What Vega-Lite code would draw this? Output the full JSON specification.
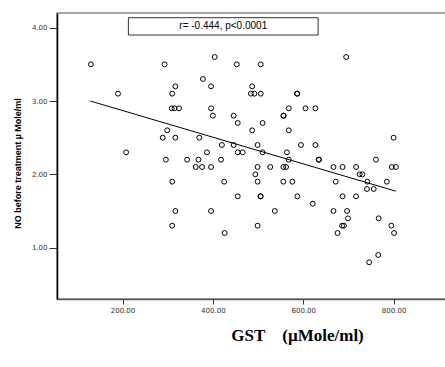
{
  "$schema": "https://vega.github.io/schema/vega-lite/v6.json",
  "width": 389,
  "height": 286,
  "autosize": "none",
  "padding": {"left": 57, "top": 13, "right": 0, "bottom": 68},
  "background": "white",
  "config": {"view": {"stroke": "#8a8a8a", "strokeWidth": 1.5}, "axis": {"grid": false}},
  "datasets": {
    "pts": [
      {"gst":130,"no":3.5},{"gst":293,"no":3.5},{"gst":404,"no":3.6},{"gst":453,"no":3.5},{"gst":378,"no":3.3},
      {"gst":317,"no":3.2},{"gst":396,"no":3.2},{"gst":190,"no":3.1},{"gst":310,"no":3.1},{"gst":309,"no":2.9},
      {"gst":315,"no":2.9},{"gst":325,"no":2.9},{"gst":396,"no":2.9},{"gst":400,"no":2.8},{"gst":446,"no":2.8},
      {"gst":455,"no":2.7},{"gst":299,"no":2.6},{"gst":289,"no":2.5},{"gst":317,"no":2.5},{"gst":370,"no":2.5},
      {"gst":420,"no":2.4},{"gst":446,"no":2.4},{"gst":208,"no":2.3},{"gst":387,"no":2.3},{"gst":455,"no":2.3},
      {"gst":466,"no":2.3},{"gst":296,"no":2.2},{"gst":343,"no":2.2},{"gst":368,"no":2.2},{"gst":418,"no":2.2},
      {"gst":362,"no":2.1},{"gst":376,"no":2.1},{"gst":396,"no":2.1},{"gst":310,"no":1.9},{"gst":425,"no":1.9},
      {"gst":455,"no":1.7},{"gst":317,"no":1.5},{"gst":396,"no":1.5},{"gst":310,"no":1.3},{"gst":426,"no":1.2},
      {"gst":506,"no":3.5},{"gst":695,"no":3.6},{"gst":487,"no":3.2},{"gst":484,"no":3.1},{"gst":492,"no":3.1},
      {"gst":506,"no":3.1},{"gst":586,"no":3.1},{"gst":587,"no":3.1},{"gst":568,"no":2.9},{"gst":605,"no":2.9},
      {"gst":627,"no":2.9},{"gst":556,"no":2.8},{"gst":557,"no":2.8},{"gst":510,"no":2.7},{"gst":487,"no":2.6},
      {"gst":568,"no":2.6},{"gst":800,"no":2.5},{"gst":499,"no":2.4},{"gst":595,"no":2.4},{"gst":627,"no":2.4},
      {"gst":510,"no":2.3},{"gst":564,"no":2.3},{"gst":568,"no":2.2},{"gst":634,"no":2.2},{"gst":635,"no":2.2},
      {"gst":761,"no":2.2},{"gst":499,"no":2.1},{"gst":527,"no":2.1},{"gst":556,"no":2.1},{"gst":562,"no":2.1},
      {"gst":667,"no":2.1},{"gst":687,"no":2.1},{"gst":717,"no":2.1},{"gst":796,"no":2.1},{"gst":805,"no":2.1},
      {"gst":494,"no":2.0},{"gst":725,"no":2.0},{"gst":731,"no":2.0},{"gst":499,"no":1.9},{"gst":556,"no":1.9},
      {"gst":576,"no":1.9},{"gst":672,"no":1.9},{"gst":742,"no":1.9},{"gst":785,"no":1.9},{"gst":741,"no":1.8},
      {"gst":756,"no":1.8},{"gst":505,"no":1.7},{"gst":506,"no":1.7},{"gst":587,"no":1.7},{"gst":687,"no":1.7},
      {"gst":717,"no":1.7},{"gst":621,"no":1.6},{"gst":537,"no":1.5},{"gst":667,"no":1.5},{"gst":697,"no":1.5},
      {"gst":699,"no":1.4},{"gst":767,"no":1.4},{"gst":499,"no":1.3},{"gst":686,"no":1.3},{"gst":690,"no":1.3},
      {"gst":795,"no":1.3},{"gst":676,"no":1.2},{"gst":801,"no":1.2},{"gst":766,"no":0.9},{"gst":746,"no":0.8}
    ],
    "fit": [{"gst":128.5,"no":3.0},{"gst":805,"no":1.77}],
    "box": [{"x1":213,"x2":633,"y1":4.136,"y2":3.90,"xm":423,"ym":4.018,"label":"r= -0.444, p<0.0001"}]
  },
  "layer": [
    {
      "data": {"name": "pts"},
      "mark": {"type": "point", "shape": "circle", "filled": false, "stroke": "black", "strokeWidth": 1, "size": 24, "opacity": 1},
      "encoding": {
        "x": {"field": "gst", "type": "quantitative",
          "scale": {"domain": [55, 916], "nice": false, "zero": false},
          "axis": {"values": [200,400,600,800], "format": ".2f", "labelFont": "DejaVu Sans", "labelFontSize": 7, "labelColor": "#333",
            "tickSize": 5, "tickColor": "#333", "domainColor": "#555", "domainWidth": 1.5, "labelPadding": 2,
            "title": "GST\u00a0\u00a0\u00a0\u00a0(µMole/ml)", "titleFont": "Liberation Serif", "titleFontSize": 17, "titleFontWeight": "bold",
            "titleColor": "black", "titleX": 240, "titleY": 36, "titleBaseline": "middle", "titleAlign": "center"}},
        "y": {"field": "no", "type": "quantitative",
          "scale": {"domain": [0.3, 4.2], "nice": false, "zero": false},
          "axis": {"values": [1,2,3,4], "format": ".2f", "labelFont": "DejaVu Sans", "labelFontSize": 7, "labelColor": "#333",
            "tickSize": 8, "tickColor": "#333", "domainColor": "black", "domainWidth": 1.5, "labelPadding": 2,
            "title": "NO before treatment µ Mole/ml", "titleFont": "Liberation Sans Narrow, Liberation Sans", "titleFontSize": 9, "titleFontWeight": "bold",
            "titleColor": "black", "titleAngle": -90, "titleX": -40, "titleY": 150, "titleAlign": "center", "titleBaseline": "middle"}}
      }
    },
    {
      "data": {"name": "fit"},
      "mark": {"type": "line", "color": "black", "strokeWidth": 1},
      "encoding": {"x": {"field": "gst", "type": "quantitative"}, "y": {"field": "no", "type": "quantitative"}}
    },
    {
      "data": {"name": "box"},
      "mark": {"type": "rect", "fill": "white", "stroke": "#333", "strokeWidth": 1},
      "encoding": {"x": {"field": "x1", "type": "quantitative"}, "x2": {"field": "x2"}, "y": {"field": "y1", "type": "quantitative"}, "y2": {"field": "y2"}}
    },
    {
      "data": {"name": "box"},
      "mark": {"type": "text", "font": "Liberation Sans", "fontSize": 10, "color": "black", "align": "center", "baseline": "middle"},
      "encoding": {"x": {"field": "xm", "type": "quantitative"}, "y": {"field": "ym", "type": "quantitative"}, "text": {"field": "label"}}
    }
  ]
}
